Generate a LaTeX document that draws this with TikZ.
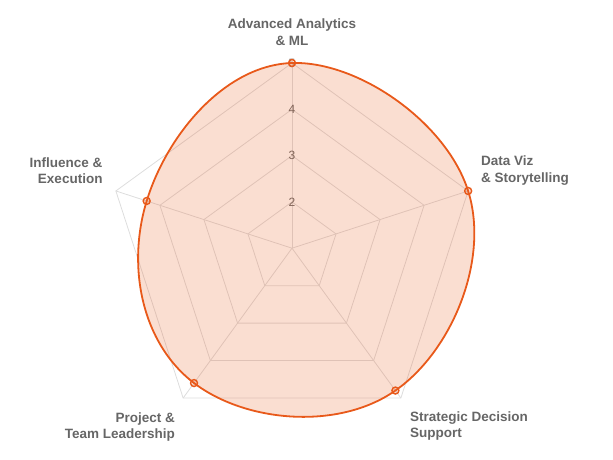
\documentclass[tikz,border=0pt]{standalone}
\usepackage{fontspec}
\setmainfont{Liberation Sans}
\usepackage{tikz}
\usetikzlibrary{calc}

\definecolor{radarline}{HTML}{E8591A}
\definecolor{gridgray}{HTML}{DDDDDD}
\definecolor{labelgray}{HTML}{666666}

\begin{document}
\begin{tikzpicture}[
        x=1pt, y=1pt,
        grid_line/.style={draw=gridgray, line width=0.8pt},
        axis_label/.style={
            inner sep=0pt, text=labelgray,
            font=\fontsize{13.5}{16.5}\selectfont\bfseries
        },
        tick_label/.style={inner sep=0pt, text=labelgray, font=\fontsize{12}{14}\selectfont},
        data_area/.style={draw=radarline, line width=1.8pt, fill=radarline, fill opacity=0.2},
        data_dot/.style={
            circle, draw=radarline, line width=1.4pt, fill=radarline, fill opacity=0.2,
            minimum size=7pt, inner sep=0pt
        }
    ]
    \useasboundingbox (0,0) rectangle (613,459);

    % Centre of the chart
    \coordinate (C) at (292,210.8);

    % Spokes (one per skill)
    \foreach \a [count=\i] in {90,18,-54,-126,162} {
        \coordinate (A\i) at ($(C)+(\a:185.2)$);
        \draw[grid_line] (C) -- (A\i);
    }

    % Rings for the values 2 to 5
    \foreach \v in {2,...,5} {
        \pgfmathsetmacro{\r}{46.3*(\v-1)}
        \draw[grid_line] ($(C)+(90:\r)$) -- ($(C)+(18:\r)$) -- ($(C)+(-54:\r)$)
            -- ($(C)+(-126:\r)$) -- ($(C)+(162:\r)$) -- cycle;
        \node[tick_label] (T\v) at ($(C)+(90:\r)$) {\v};
    }

    % Data points (Advanced Analytics, Data Viz, Strategic, Project, Influence)
    \foreach \a/\v [count=\i] in {90/5, 18/5, -54/4.8, -126/4.6, 162/4.3} {
        \coordinate (P\i) at ($(C)+(\a:{46.3*(\v-1)})$);
    }
    \draw[data_area] plot[smooth cycle, tension=0.75] coordinates {(P1) (P2) (P3) (P4) (P5)};
    \foreach \i in {1,...,5} {
        \node[data_dot] (D\i) at (P\i) {};
    }

    % Axis labels
    \node[axis_label, align=center] (L1) at (292,427) {Advanced Analytics\\\& ML};
    \node[axis_label, align=left, anchor=west] (L2) at (481,288.5) {Data Viz\\\& Storytelling};
    \node[axis_label, align=left, anchor=west] (L3) at (410,33) {Strategic Decision\\Support};
    \node[axis_label, align=right, anchor=east] (L4) at (175,32) {Project \&\\Team Leadership};
    \node[axis_label, align=right, anchor=east] (L5) at (102.7,288.3) {Influence \&\\Execution};

\end{tikzpicture}
\end{document}
